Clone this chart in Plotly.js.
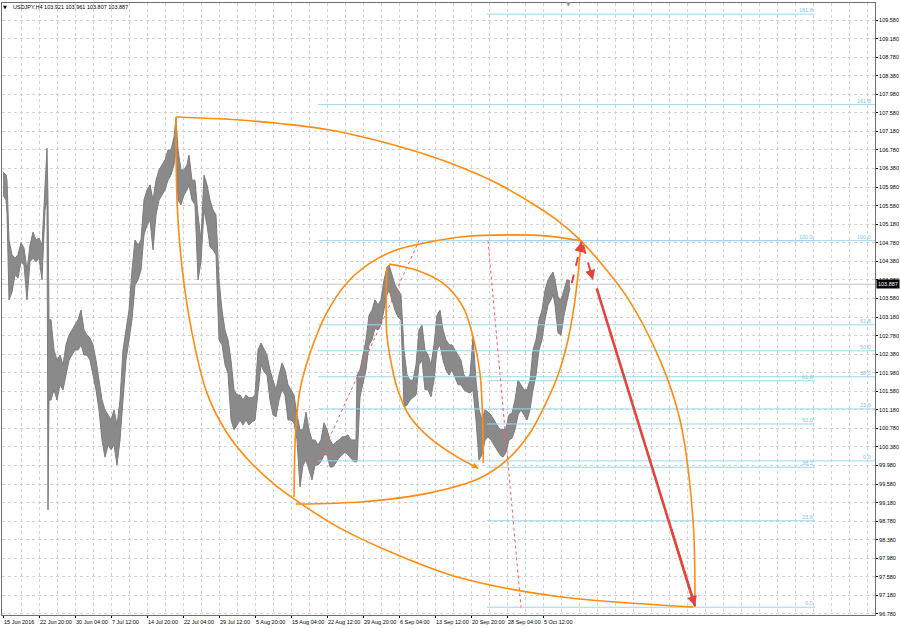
<!DOCTYPE html>
<html><head><meta charset="utf-8">
<script src="https://cdn.plot.ly/plotly-3.0.1.min.js"></script>
<style>html,body{margin:0;padding:0;background:#fff}#chart{width:900px;height:629px}</style>
</head><body><div id="chart"></div>
<script>
const titleText = 'USDJPY,H4 103.921 103.961 103.807 103.887';
const lastPrice = 103.887;
const dateLabels = ['15 Jun 2016','22 Jun 20:00','30 Jun 04:00','7 Jul 12:00','14 Jul 20:00','22 Jul 04:00','29 Jul 12:00','5 Aug 20:00','15 Aug 04:00','22 Aug 12:00','29 Aug 20:00','6 Sep 04:00','13 Sep 12:00','20 Sep 20:00','28 Sep 04:00','5 Oct 12:00'];
const dateBars = [1,37,73,109,145,181,217,253,289,325,361,397,433,469,505,541];

const barIdx = [1,4,5,7,10,13,16,19,22,25,28,31,34,37,40,43,45,46,47,49,52,55,58,61,64,67,70,73,76,79,82,85,88,91,94,97,100,103,106,109,112,115,118,121,124,127,130,133,136,139,142,145,148,151,154,157,160,163,166,169,172,174,176,179,182,185,187,190,193,196,199,202,205,208,211,214,217,220,223,226,229,232,235,238,241,244,247,250,253,256,259,262,265,268,271,274,277,280,283,286,289,292,295,298,301,304,307,310,313,316,319,322,325,328,331,334,337,340,343,346,349,352,354,355,358,361,364,367,370,373,376,379,382,385,387,390,393,396,399,402,405,408,411,414,417,420,423,426,429,432,435,438,441,444,447,450,453,456,459,462,465,468,471,474,477,480,483,486,489,492,495,498,501,504,507,510,513,516,519,522,525,528,531,534,537,540,543,546,549,551,553,556,559,562,565,568];
const barHigh = [106.31,106.24,106.13,104.84,104.52,104.45,104.52,104.78,104.67,104.19,104.73,105.01,104.84,104.88,104.73,106.03,106.82,105.70,103.12,103.12,102.47,102.25,102.36,102.15,102.58,102.79,102.90,103.01,103.12,103.33,102.90,102.79,102.73,102.58,102.25,101.82,101.39,101.18,101.07,100.96,101.18,100.85,101.39,102.47,102.90,103.33,104.19,104.84,104.73,104.84,105.70,105.92,106.03,105.70,106.13,106.35,106.46,106.57,106.78,106.78,107.06,107.47,106.78,106.35,106.35,106.46,106.67,106.13,106.13,105.38,104.84,106.24,106.03,105.70,105.49,105.38,103.98,103.33,102.90,102.69,102.25,101.61,101.50,101.50,101.39,101.50,101.44,101.44,101.50,102.47,102.62,102.47,102.36,102.04,101.82,101.61,101.93,102.19,102.04,101.72,101.61,101.50,101.07,100.75,100.75,101.13,100.75,100.53,100.53,100.42,100.53,100.90,100.75,100.53,100.42,100.49,100.53,100.60,100.60,100.64,100.53,100.53,100.53,101.93,102.04,102.36,102.69,103.22,103.33,103.55,103.44,103.55,103.98,104.24,104.30,104.09,103.87,103.76,103.66,102.47,101.93,101.82,101.82,102.15,102.90,103.01,102.47,102.36,102.15,102.58,103.22,103.33,102.90,102.69,102.58,102.58,102.47,102.36,102.25,101.93,101.87,101.93,102.75,101.82,101.18,100.96,101.18,101.13,101.07,100.96,100.85,100.75,100.75,100.79,101.07,101.11,101.39,101.82,101.72,101.61,101.61,101.82,102.47,102.69,103.12,103.33,103.76,103.98,104.09,104.15,103.98,103.61,103.55,103.76,103.98,103.96];
const barLow = [105.81,105.70,105.42,103.55,103.72,104.09,104.02,104.37,104.30,103.55,104.37,104.45,104.37,104.45,103.98,105.49,105.70,99.02,101.39,101.39,101.61,101.39,101.72,101.61,101.93,102.25,102.36,102.47,102.47,102.58,102.36,102.36,102.25,101.93,101.61,101.18,100.53,100.16,100.42,100.32,100.42,99.99,100.53,101.39,102.25,102.69,103.12,103.87,103.98,104.19,104.95,105.16,105.27,104.63,105.38,105.70,105.81,105.92,106.13,106.24,106.46,106.78,105.70,105.60,105.81,105.92,106.03,105.70,105.60,103.98,104.37,105.49,105.16,104.69,104.63,104.52,102.69,102.58,102.15,101.97,100.96,100.75,100.85,100.96,100.85,100.96,100.85,100.92,100.96,101.61,102.15,102.00,101.93,101.39,101.07,101.03,101.39,101.61,101.50,100.96,100.96,100.90,100.53,99.52,99.99,100.10,99.88,99.67,99.99,99.99,100.06,100.21,100.21,99.95,99.95,100.06,100.14,100.21,100.27,100.21,100.14,100.06,100.06,100.06,101.46,101.72,102.04,102.58,102.69,102.94,102.90,103.01,103.33,103.66,103.76,103.55,103.33,103.18,103.12,101.24,101.28,101.39,101.44,101.50,102.15,102.25,101.61,101.61,101.46,101.82,102.47,102.58,102.25,102.04,101.93,102.04,101.89,101.72,101.72,101.61,101.57,101.54,101.61,100.96,100.10,100.21,100.53,100.60,100.53,100.42,100.32,100.21,100.16,100.27,100.53,100.57,100.75,101.07,101.18,101.07,100.96,101.18,101.61,101.93,102.47,102.69,103.12,103.44,103.55,103.66,103.44,102.84,102.79,103.22,103.55,103.81];

const fibLevels = [0, 23.6, 38.2, 50, 61.8, 100, 161.8];
const fibLabels = ['0.0','23.6','38.2','50.0','61.8','100.0','161.8'];
const fibABars = [316, 873];
const fibAPrices = [100.08, 104.825];
const fibBBars = [485, 813];
const fibBPrices = [96.925, 104.825];
const fibATrendBars = [317, 417];
const fibATrendPrices = [100.08, 104.825];
const fibBTrendBars = [486, 519];
const fibBTrendPrices = [104.825, 96.925];

const arcTopBars = [174,248,328,398,448,498,555,580,625,658,678,691,693];
const arcTopPrices = [107.49,107.41,107.21,106.85,106.50,106.03,105.27,104.80,103.61,102.25,100.96,98.81,96.93];
const arcLowBars = [174,175,180,190,205,225,248,273,298,338,398,458,558,691];
const arcLowPrices = [107.49,105.70,104.26,102.84,101.54,100.68,100.06,99.56,99.17,98.63,98.03,97.56,97.15,96.93];
const arcMidUpBars = [292,293.7,298,308,324.7,344.7,368,394.7,428,461,508,543,578];
const arcMidUpPrices = [99.30,100.75,101.61,102.40,103.27,103.91,104.34,104.63,104.80,104.91,104.95,104.93,104.83];
const arcMidLowBars = [293.7,361,428,478,505,528,543,556,566,573,577,579];
const arcMidLowPrices = [99.15,99.20,99.39,99.71,100.10,100.68,101.28,101.93,102.69,103.55,104.30,104.82];
const arcInROutBars = [387.3,414.7,441,461,471,478,480.3,481.3];
const arcInROutPrices = [104.32,104.19,103.91,103.40,102.76,101.97,101.18,100.04];
const arcInLeftBars = [384.7,384.7,388,394.7,408,428,454.7,476.3];
const arcInLeftPrices = [104.26,102.84,102.33,101.68,101.03,100.57,100.17,99.92];

const arrowMainBars = [594.7, 693];
const arrowMainPrices = [103.80, 96.95];
const arrowUpBars = [569.7, 579.7];
const arrowUpPrices = [103.91, 104.80];
const arrowDownBars = [581, 591];
const arrowDownPrices = [104.73, 103.98];

const ORANGE = '#ff8c0f', FIB = '#9fd6ee', RED = '#e5433b', GRID = '#d2d2d2';
const FONT = 'Liberation Sans, Arial, sans-serif';

function fibTrace(bars, prices) {
  const x = [], y = [];
  fibLevels.forEach(l => {
    const p = prices[0] + (prices[1] - prices[0]) * l / 100;
    x.push(bars[0], bars[1], null); y.push(p, p, null);
  });
  return {type:'scatter', mode:'lines', x, y, line:{color:FIB, width:1}, hoverinfo:'skip'};
}
function fibAnnots(bars, prices, xpos) {
  return fibLevels.map((l, i) => ({
    x: xpos, y: prices[0] + (prices[1] - prices[0]) * l / 100, xref:'x', yref:'y',
    text: fibLabels[i], showarrow:false, xanchor:'right', yanchor:'bottom', yshift:-1,
    font:{family:FONT, size:5.5, color:'#7cc6e6'}
  }));
}
function arc(bx, py) {
  return {type:'scatter', mode:'lines', x:bx, y:py, line:{color:ORANGE, width:1.6, shape:'spline', smoothing:0.9}, hoverinfo:'skip'};
}
function head(bx, py, color, w) {
  const f = 0.25;
  return {x:bx[1], y:py[1], ax:bx[1] - (bx[1]-bx[0])*f, ay:py[1] - (py[1]-py[0])*f,
    xref:'x', yref:'y', axref:'x', ayref:'y', text:'', showarrow:true,
    arrowhead:2, arrowsize:1, arrowwidth:w, arrowcolor:color};
}

const traces = [
  {type:'scatter', mode:'lines', x:barIdx, y:barLow, line:{color:'#7c7c7c', width:1}, hoverinfo:'skip'},
  {type:'scatter', mode:'lines', x:barIdx, y:barHigh, fill:'tonexty', fillcolor:'#8a8a8a', line:{color:'#7c7c7c', width:1}, hoverinfo:'skip'},
  fibTrace(fibABars, fibAPrices),
  fibTrace(fibBBars, fibBPrices),
  {type:'scatter', mode:'lines', x:fibATrendBars, y:fibATrendPrices, line:{color:'#ff5a5a', width:1, dash:'dot'}, hoverinfo:'skip'},
  {type:'scatter', mode:'lines', x:fibBTrendBars, y:fibBTrendPrices, line:{color:'#ff5a5a', width:1, dash:'dot'}, hoverinfo:'skip'},
  arc(arcTopBars, arcTopPrices),
  arc(arcLowBars, arcLowPrices),
  arc(arcMidUpBars, arcMidUpPrices),
  arc(arcMidLowBars, arcMidLowPrices),
  arc(arcInROutBars, arcInROutPrices),
  arc(arcInLeftBars, arcInLeftPrices),
  {type:'scatter', mode:'lines', x:arrowMainBars, y:arrowMainPrices, line:{color:RED, width:2.6}, hoverinfo:'skip'},
  {type:'scatter', mode:'lines', x:arrowUpBars, y:arrowUpPrices, line:{color:RED, width:2, dash:'dash'}, hoverinfo:'skip'},
  {type:'scatter', mode:'lines', x:arrowDownBars, y:arrowDownPrices, line:{color:RED, width:2, dash:'dash'}, hoverinfo:'skip'}
];

const gridBars = [];
for (let b = dateBars[0]; b <= 873; b += 18) gridBars.push(b);

const annotations = [
  ...fibAnnots(fibABars, fibAPrices, 871),
  ...fibAnnots(fibBBars, fibBPrices, fibBBars[1]),
  {xref:'paper', yref:'paper', x:0.0035, y:0.9935, text:'▼', showarrow:false, xanchor:'center', yanchor:'middle', font:{family:'DejaVu Sans', size:5, color:'#000'}},
  {xref:'paper', yref:'paper', x:0.0103, y:0.9935, text:titleText, showarrow:false, xanchor:'left', yanchor:'middle', font:{family:FONT, size:5.5, color:'#000'}},
  {xref:'x', yref:'paper', x:566, y:1, text:'▼', showarrow:false, xanchor:'center', yanchor:'middle', font:{family:'DejaVu Sans', size:6, color:'#999'}},
  {xref:'paper', yref:'y', x:1, y:lastPrice, text:lastPrice.toFixed(3), showarrow:false, xanchor:'left', yanchor:'middle', xshift:1, bgcolor:'#000', borderpad:1, font:{family:FONT, size:5.5, color:'#fff'}},
  head(arrowMainBars, arrowMainPrices, RED, 2),
  head(arrowUpBars, arrowUpPrices, RED, 2),
  head(arrowDownBars, arrowDownPrices, RED, 2),
  head([arcInLeftBars[6], arcInLeftBars[7]], [arcInLeftPrices[6], arcInLeftPrices[7]], ORANGE, 1.2)
];

const layout = {
  width:900, height:629,
  margin:{l:2, r:25, t:3, b:14, pad:0},
  paper_bgcolor:'#fff', plot_bgcolor:'#fff',
  showlegend:false,
  xaxis:{range:[0,873], tickmode:'array', tickvals:dateBars, ticktext:dateLabels, tickangle:0,
    ticks:'outside', ticklen:2, tickcolor:'#000', ticklabelposition:'outside right', ticklabelstandoff:1,
    tickfont:{family:FONT, size:5.5, color:'#000'}, automargin:false,
    showgrid:true, gridcolor:GRID, griddash:'dot', gridwidth:1,
    minor:{tickmode:'array', tickvals:gridBars, showgrid:true, gridcolor:GRID, griddash:'dot', ticks:''},
    showline:true, mirror:true, linecolor:'#6e6e6e', linewidth:1, zeroline:false, fixedrange:true},
  yaxis:{range:[96.758,109.948], side:'right', tickmode:'linear', tick0:96.78, dtick:0.4, tickformat:'.3f',
    ticks:'outside', ticklen:2, tickcolor:'#000', automargin:false,
    tickfont:{family:FONT, size:5.5, color:'#000'},
    showgrid:true, gridcolor:GRID, griddash:'dot', gridwidth:1,
    showline:true, mirror:true, linecolor:'#6e6e6e', linewidth:1, zeroline:false, fixedrange:true},
  shapes:[{type:'line', xref:'paper', yref:'y', x0:0, x1:1, y0:lastPrice, y1:lastPrice, line:{color:'#c4c4c4', width:1}, layer:'below'}],
  annotations
};

Plotly.newPlot('chart', traces, layout, {staticPlot:true, displayModeBar:false});
</script>
</body></html>
